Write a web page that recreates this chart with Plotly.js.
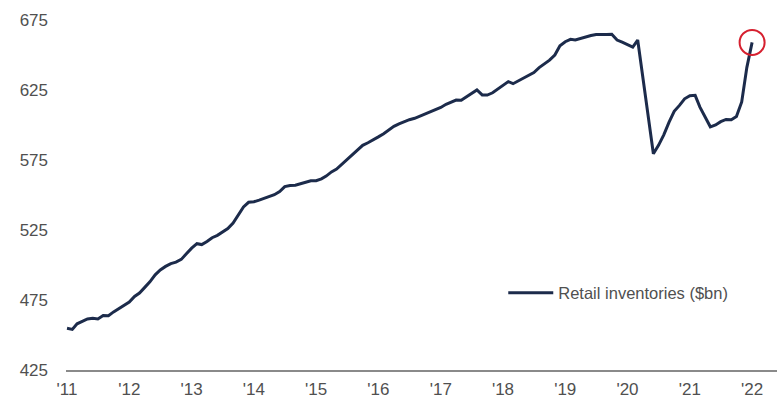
<!DOCTYPE html>
<html>
<head>
<meta charset="utf-8">
<script src="https://cdn.plot.ly/plotly-3.0.1.min.js"></script>
<style>html,body{margin:0;padding:0;background:#fff;}#chart{width:777px;height:405px;}</style>
</head>
<body>
<div id="chart"></div>
<script>
// Monthly retail inventories ($bn), Jan 2011 .. Jan 2022
const startYear = 2011;
const seriesName = "Retail inventories ($bn)";
const inv2011 = [454.8, 454.0, 458.0, 460.0, 461.5, 462.0, 461.5, 464.0, 463.8, 466.5, 469.0, 471.5];
const inv2012 = [473.5, 477.5, 480.0, 484.0, 488.0, 493.0, 496.5, 499.0, 501.0, 502.0, 504.0, 508.0];
const inv2013 = [512.0, 515.2, 514.6, 516.8, 519.5, 521.2, 523.3, 526.0, 530.0, 535.5, 541.5, 544.8];
const inv2014 = [545.2, 546.3, 547.5, 548.8, 550.2, 552.5, 556.0, 556.8, 557.0, 558.0, 559.0, 560.2];
const inv2015 = [560.2, 561.5, 563.5, 566.5, 568.5, 572.0, 575.5, 579.0, 582.5, 585.5, 587.3, 589.2];
const inv2016 = [591.5, 593.8, 596.6, 599.0, 600.8, 602.5, 603.8, 604.8, 606.3, 607.5, 609.0, 611.0];
const inv2017 = [612.5, 614.8, 616.4, 617.8, 617.7, 620.2, 622.1, 625.0, 621.5, 621.4, 623.0, 625.5];
const inv2018 = [627.8, 631.0, 629.5, 631.5, 633.6, 635.8, 637.5, 641.0, 644.0, 646.3, 650.0, 656.6];
const inv2019 = [659.5, 661.2, 660.8, 662.0, 663.0, 663.9, 664.7, 664.5, 664.6, 664.8, 660.7, 659.2];
const inv2020 = [657.2, 655.7, 660.7, 634.0, 607.0, 579.5, 585.5, 593.0, 602.0, 609.8, 614.0, 618.7];
const inv2021 = [620.9, 621.2, 612.8, 605.3, 598.7, 600.0, 602.4, 604.0, 603.7, 606.0, 616.5, 641.0];
const inv2022 = [659.0];
const tickYears = [2011, 2012, 2013, 2014, 2015, 2016, 2017, 2018, 2019, 2020, 2021, 2022];
const tickLabels = ["'11", "'12", "'13", "'14", "'15", "'16", "'17", "'18", "'19", "'20", "'21", "'22"];
const yTicks = [425, 475, 525, 575, 625, 675];

const values = [].concat(inv2011, inv2012, inv2013, inv2014, inv2015, inv2016,
  inv2017, inv2018, inv2019, inv2020, inv2021, inv2022);
const dates = values.map((v, i) => {
  const y = startYear + Math.floor(i / 12);
  const m = (i % 12) + 1;
  return y + '-' + String(m).padStart(2, '0') + '-01';
});
const last = values.length - 1;

const font = "'Liberation Sans', Arial, sans-serif";
const textColor = '#505050';
const traces = [
  {
    x: dates, y: values, type: 'scatter', mode: 'lines', name: seriesName,
    line: {color: '#1c2b4b', width: 3}
  },
  {
    x: [dates[last]], y: [values[last]], type: 'scatter', mode: 'markers',
    showlegend: false, hoverinfo: 'skip',
    marker: {symbol: 'circle-open', size: 25, color: '#d6202f', line: {width: 2, color: '#d6202f'}}
  }
];

const layout = {
  width: 777, height: 405,
  margin: {l: 66, r: 0, t: 20, b: 35},
  paper_bgcolor: '#ffffff', plot_bgcolor: '#ffffff',
  font: {family: font, color: textColor, size: 17},
  showlegend: true,
  legend: {
    x: 0.615, y: 0.22, xanchor: 'left', yanchor: 'middle',
    itemwidth: 45,
    bgcolor: 'rgba(0,0,0,0)', font: {family: font, size: 16.5, color: textColor}
  },
  xaxis: {
    type: 'date',
    range: ['2010-12-26', '2022-05-27'],
    tickvals: tickYears.map(y => y + '-01-01'),
    ticktext: tickLabels,
    showgrid: false, zeroline: false,
    showline: true, linecolor: '#8a8a8a', linewidth: 2,
    ticks: '', ticklabelstandoff: 3,
    tickfont: {family: font, size: 17, color: textColor}
  },
  yaxis: {
    range: [425, 675],
    tickvals: yTicks,
    showgrid: false, zeroline: false, showline: false,
    ticks: '', ticklabelstandoff: 17,
    tickfont: {family: font, size: 17, color: textColor}
  }
};

Plotly.newPlot('chart', traces, layout, {displayModeBar: false, staticPlot: true});
</script>
</body>
</html>
